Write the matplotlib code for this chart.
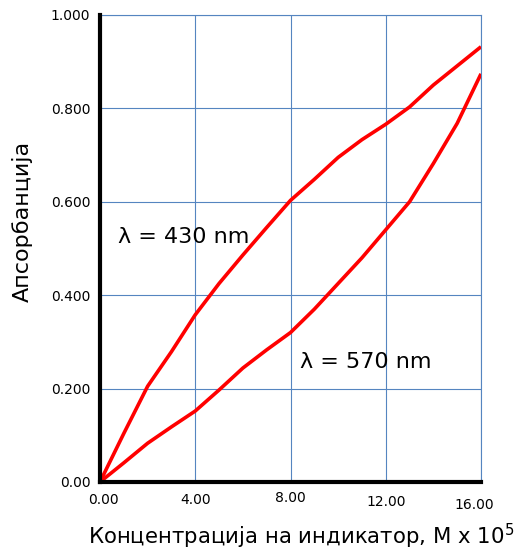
"""
Absorbance of the indicator versus concentration at two wavelengths.
"""

import matplotlib
matplotlib.use("Agg")
import matplotlib.pyplot as plt
from matplotlib.transforms import ScaledTranslation

conc = [0, 1, 2, 3, 4, 5, 6, 7, 8, 9, 10, 11, 12, 13, 14, 15, 16]
abs_430 = [0.0, 0.104, 0.205, 0.279, 0.358, 0.425, 0.486, 0.545, 0.603,
           0.648, 0.695, 0.733, 0.766, 0.803, 0.850, 0.891, 0.932]
abs_570 = [0.0, 0.041, 0.083, 0.118, 0.152, 0.197, 0.244, 0.283, 0.320,
           0.370, 0.425, 0.480, 0.540, 0.600, 0.682, 0.768, 0.874]

x_ticks = [0, 4, 8, 12, 16]
x_tick_labels = ["0.00", "4.00", "8.00", "12.00", "16.00"]
y_ticks = [0, 0.2, 0.4, 0.6, 0.8, 1.0]
y_tick_labels = ["0.00", "0.200", "0.400", "0.600", "0.800", "1.000"]

grid_blue = "#5585c0"

fig = plt.figure(figsize=(5.23, 5.53), dpi=100)
ax = fig.add_axes([0.1912, 0.1284, 0.7285, 0.8445])

ax.plot(conc, abs_430, color="red", lw=2.6, solid_capstyle="butt", zorder=3)
ax.plot(conc, abs_570, color="red", lw=2.6, solid_capstyle="butt", zorder=3)

ax.set_xlim(0, 16)
ax.set_ylim(0, 1.0)
ax.set_xticks(x_ticks)
ax.set_xticklabels(x_tick_labels, fontsize=10)
ax.set_yticks(y_ticks)
ax.set_yticklabels(y_tick_labels, fontsize=10)
ax.tick_params(length=0, pad=8)
ax.tick_params(axis="y", pad=7)
ax.grid(True, color=grid_blue, lw=0.8)
ax.set_axisbelow(True)

for side in ["top", "right"]:
    ax.spines[side].set_color(grid_blue)
    ax.spines[side].set_linewidth(0.8)
for side in ["left", "bottom"]:
    ax.spines[side].set_color("black")
    ax.spines[side].set_linewidth(3)
    ax.spines[side].set_zorder(4)

# x tick labels in the original are slightly staggered
x_offsets = [(0.03, 0.0), (0.0, 0.0), (0.0, 0.02), (0.0, -0.02), (-0.07, -0.05)]
for lab, (dx, dy) in zip(ax.get_xticklabels(), x_offsets):
    lab.set_transform(lab.get_transform() + ScaledTranslation(dx, dy, fig.dpi_scale_trans))

ax.text(0.75, 0.525, "λ = 430 nm", fontsize=16, va="center", ha="left")
ax.text(8.4, 0.257, "λ = 570 nm", fontsize=16, va="center", ha="left")

ax.set_ylabel("Апсорбанција", fontsize=16)
ax.yaxis.set_label_coords(-0.176, 0.557)
ax.set_xlabel("Концентрација на индикатор, М х 10$^5$", fontsize=15.3)
ax.xaxis.set_label_coords(0.527, -0.086)

fig.savefig("out.png", dpi=100)
